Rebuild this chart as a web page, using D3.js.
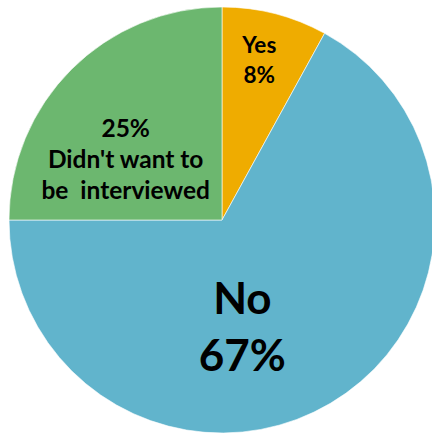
<!DOCTYPE html>
<html><head><meta charset="utf-8">
<script src="https://cdn.jsdelivr.net/npm/d3@7"></script>
<style>body{margin:0;background:#fff}svg{display:block}</style>
</head><body>
<script>
const categories = ["Yes", "No", "Didn't want to be interviewed"];
const values = [8, 67, 25];
const colors = ["#EFAC00", "#61B4CC", "#6CB76F"];
const labelLines = [["Yes", "8%"], ["No", "67%"], ["25%", "Didn't want to", "be  interviewed"]];

const W = 432, H = 433, cx = 222, cy = 220, R = 213;
const svg = d3.select("body").append("svg").attr("width", W).attr("height", H);
const g = svg.append("g").attr("transform", `translate(${cx},${cy})`);
const pie = d3.pie().sort(null).value(d => d)(values);
const arc = d3.arc().innerRadius(0).outerRadius(R);
g.selectAll("path").data(pie).join("path")
  .attr("d", arc).attr("fill", (d, i) => colors[i])
  .attr("stroke", "#fff").attr("stroke-width", 0.6);

const labelCfg = [
  {r: 0.78, dx: -4, dy: 1, size: 22.5, lh: 30},
  {r: 0.52, dx: -36, dy: 12, size: 44, lh: 57},
  {r: 0.52, dx: -18, dy: 18, size: 24.5, lh: 31}
];
pie.forEach((d, i) => {
  const c = labelCfg[i];
  const [x0, y0] = d3.arc().innerRadius(R * c.r).outerRadius(R * c.r).centroid(d);
  const x = x0 + c.dx, y = y0 + c.dy;
  const lines = labelLines[i];
  const t = g.append("text").attr("text-anchor", "middle")
    .attr("font-family", "Lato, 'Open Sans', sans-serif").attr("font-weight", "bold")
    .attr("font-size", c.size).attr("fill", "#000");
  const off = -(lines.length - 1) * c.lh / 2;
  lines.forEach((s, k) => {
    t.append("tspan").attr("x", x).attr("y", y + off + k * c.lh)
      .attr("dy", "0.35em").style("white-space", "pre").text(s);
  });
});
</script>
</body></html>
